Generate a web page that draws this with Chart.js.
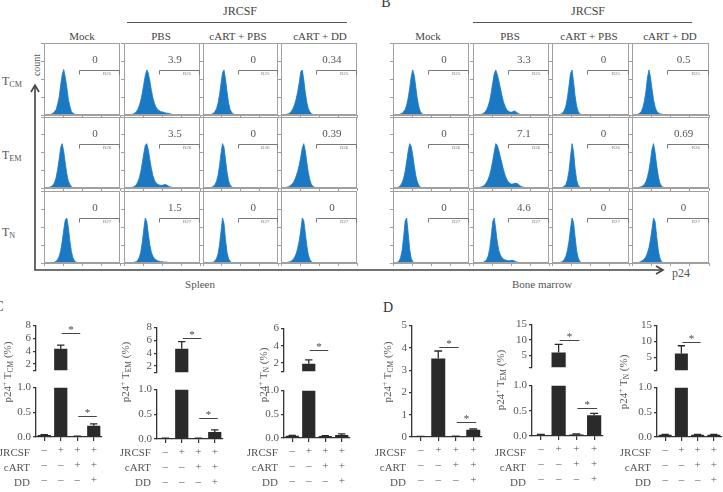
<!DOCTYPE html>
<html><head><meta charset="utf-8">
<script src="https://cdn.jsdelivr.net/npm/chart.js@4.4.1/dist/chart.umd.min.js"></script>
<style>
html,body{margin:0;padding:0;background:#fff;}
#root{position:relative;width:723px;height:492px;overflow:hidden;font-family:"Liberation Serif","DejaVu Serif",serif;color:#555;}
.t{position:absolute;white-space:nowrap;line-height:1;}
canvas{position:absolute;}
sub{font-size:68%;vertical-align:-0.3em;line-height:0;}
sup{font-size:68%;vertical-align:0.5em;line-height:0;}
</style></head><body><div id="root"></div>
<script>
// ================= DATA =================
const columnNames = ['Mock', 'PBS', 'cART + PBS', 'cART + DD'];
const subsetNames = ['CM', 'EM', 'N'];
const gateNames = ['R25', 'R26', 'R27'];
const spleenPercent = [['0', '3.9', '0', '0.34'], ['0', '3.5', '0', '0.39'], ['0', '1.5', '0', '0']];
const marrowPercent = [['0', '3.3', '0', '0.5'], ['0', '7.1', '0', '0.69'], ['0', '4.6', '0', '0']];

// histogram counts (bins of 2 units starting at 4, p24 axis 0-100)
const hSpCM_Mock = [0,0,1,2,4,8,12,25,40,68,90,101,84,62,35,20,8,4,2,1,0];
const hSpCM_PBS  = [0,0,1,1,2,4,7,12,20,32,48,68,88,100,93,76,55,38,26,18,13,10,8,7,6,5,4,4,3,2,1,1,0];
const hSpCM_CP   = [0,0,0,1,2,4,8,14,26,45,70,94,100,80,52,28,13,6,3,1,0];
const hSpCM_CD   = [0,1,2,3,5,9,15,24,36,52,72,96,100,78,50,28,14,7,3,1,0];
const hSpEM_Mock = [0,1,2,4,7,13,24,42,66,92,100,82,56,32,16,8,3,1,0];
const hSpEM_PBS  = [0,0,1,1,2,4,7,13,22,36,55,78,96,100,86,64,44,28,18,12,9,7,6,6,7,8,7,5,3,2,1,0];
const hSpEM_CP   = [0,0,0,1,2,4,8,15,28,50,78,100,92,64,36,17,7,3,1,0];
const hSpEM_CD   = [0,1,2,3,5,8,12,18,27,38,52,70,90,100,84,58,34,18,8,4,2,1,0];
const hSpN_Mock  = [0,0,0,0,1,2,4,8,15,28,48,74,96,100,80,50,26,12,5,2,1,0];
const hSpN_PBS   = [0,0,0,0,1,2,3,6,12,24,45,75,100,92,64,40,24,15,10,7,5,4,3,3,2,2,2,1,1,1,0];
const hSpN_CP    = [0,0,0,0,1,2,5,10,20,40,70,100,88,52,24,10,4,1,0];
const hSpN_CD    = [0,0,1,2,3,5,8,13,21,33,50,72,100,94,66,38,18,8,3,1,0];
const hBmCM_Mock = [0,0,1,2,4,7,12,22,38,60,86,100,88,62,36,18,8,3,1,0];
const hBmCM_PBS  = [0,0,1,1,2,4,7,12,20,32,50,72,92,100,90,76,60,44,30,20,13,9,7,6,7,9,8,5,3,1,0];
const hBmCM_CP   = [0,0,0,1,2,5,10,20,38,64,92,100,74,42,20,8,3,1,0];
const hBmCM_CD   = [0,1,2,4,8,16,30,52,82,100,84,58,34,18,9,5,3,2,1,0];
const hBmEM_Mock = [0,1,3,6,12,22,38,60,84,100,94,74,50,28,14,6,2,1,0];
const hBmEM_PBS  = [0,0,1,2,3,5,8,13,20,30,44,62,82,100,96,84,70,56,42,30,21,15,11,9,9,10,11,10,8,5,3,2,1,0];
const hBmEM_CP   = [0,0,0,0,1,2,4,8,18,38,70,100,82,44,18,6,2,0];
const hBmEM_CD   = [0,0,1,2,3,5,8,14,24,40,62,88,100,80,52,28,12,5,2,1,0];
const hBmN_Mock  = [0,2,5,12,28,58,94,100,66,30,10,3,1,0];
const hBmN_PBS   = [0,0,0,0,1,2,4,8,16,32,60,92,100,74,46,28,18,12,9,7,6,5,5,6,6,5,3,2,1,0];
const hBmN_CP    = [0,0,0,1,2,4,8,15,28,48,76,100,90,58,28,11,4,1,0];
const hBmN_CD    = [0,0,1,2,4,6,9,14,22,34,52,76,100,92,60,30,12,4,1,0];

const spleenHists = [[hSpCM_Mock, hSpCM_PBS, hSpCM_CP, hSpCM_CD], [hSpEM_Mock, hSpEM_PBS, hSpEM_CP, hSpEM_CD], [hSpN_Mock, hSpN_PBS, hSpN_CP, hSpN_CD]];
const marrowHists = [[hBmCM_Mock, hBmCM_PBS, hBmCM_CP, hBmCM_CD], [hBmEM_Mock, hBmEM_PBS, hBmEM_CP, hBmEM_CD], [hBmN_Mock, hBmN_PBS, hBmN_CP, hBmN_CD]];

// bar charts (% p24+)
const jrcsfRow = ['\u2013', '+', '+', '+'];
const cartRow  = ['\u2013', '\u2013', '+', '+'];
const ddRow    = ['\u2013', '\u2013', '\u2013', '+'];
const spleenTCM    = [0.04, 4.4, 0.01, 0.23];
const spleenTCMerr = [0.01, 0.55, 0.005, 0.035];
const spleenTEM    = [0.01, 4.7, 0.01, 0.14];
const spleenTEMerr = [0.005, 1.1, 0.005, 0.045];
const spleenTN     = [0.045, 1.9, 0.04, 0.065];
const spleenTNerr  = [0.01, 0.45, 0.01, 0.02];
const marrowTCM    = [0.02, 3.52, 0.03, 0.32];
const marrowTCMerr = [0.005, 0.34, 0.005, 0.04];
const marrowTEM    = [0.02, 5.9, 0.03, 0.41];
const marrowTEMerr = [0.01, 2.6, 0.01, 0.04];
const marrowTN     = [0.045, 6.3, 0.045, 0.045];
const marrowTNerr  = [0.01, 2.4, 0.01, 0.01];
const lowerTicks = [0, 0.5, 1];
const upperTicksC = [1, 2, 4, 6, 8];
const upperTicksC3 = [1, 2, 4, 6];
const upperTicksD = [1, 5, 10, 15];
const singleTicksD1 = [0, 1, 2, 3, 4, 5];

// ================= RENDER =================
const root = document.getElementById('root');
const FONT = '"Liberation Serif","DejaVu Serif",serif';
const HIST_X0 = 4, HIST_STEP = 2;
const HIST_BLUE = '#1b79c3';
const FRAME = '#a0a0a0';
const GATE_FROM = 46, GATE_TO = 100, GATE_LEVEL = 100;
const BAR_COLOR = '#2a2a2a';
const AXIS_COLOR = '#333';
const LOWER_MAX = 1;

function addText(html, x, y, o = {}) {
  const d = document.createElement('div');
  d.className = 't';
  d.innerHTML = html;
  d.style.fontSize = (o.size || 11) + 'px';
  d.style.color = o.color || '#555';
  d.style.left = x + 'px';
  d.style.top = y + 'px';
  const ax = o.align === 'left' ? '0' : o.align === 'right' ? '-100%' : '-50%';
  d.style.transform = `translate(${ax},-50%)` + (o.rotate ? ` rotate(${o.rotate}deg)` : '');
  root.appendChild(d);
  return d;
}

root.insertAdjacentHTML('beforeend', `
<svg width="723" height="492" style="position:absolute;left:0;top:0">
 <g stroke="#555" stroke-width="1" fill="none">
  <line x1="127" y1="22.5" x2="347" y2="22.5"/>
  <line x1="473" y1="22.5" x2="692" y2="22.5"/>
 </g>
 <g stroke="#444" stroke-width="1.6" fill="none">
  <polyline points="35,85 35,270 663,270"/>
  <polyline points="31,92 35,85 39,92"/>
  <polyline points="656,266 663,270 656,274"/>
 </g>
</svg>`);

addText('A', -5, 4, {size: 14, color: '#333'});
addText('B', 386, 3, {size: 14, color: '#333'});
addText('C', -1, 307, {size: 14, color: '#333'});
addText('D', 388, 308, {size: 14, color: '#333'});

addText('JRCSF', 240, 11, {size: 12, color: '#444'});
addText('JRCSF', 588, 11, {size: 12, color: '#444'});
const headA = [82, 161, 238, 320], headB = [428, 510, 589, 670];
columnNames.forEach((n, i) => { addText(n, headA[i], 36, {size: 11, color: '#444'}); addText(n, headB[i], 36, {size: 11, color: '#444'}); });

addText('count', 37, 65, {size: 10, rotate: -90});
const rowY = [81, 155, 232];
subsetNames.forEach((s, i) => addText('T<sub>' + s + '</sub>', 2, rowY[i], {size: 12, align: 'left'}));
addText('Spleen', 200, 284, {size: 11});
addText('Bone marrow', 542, 284, {size: 11});
addText('p24', 681, 273, {size: 12});

// -------- histograms --------
const histDecor = {
  id: 'histDecor',
  afterDraw(chart) {
    const {ctx, chartArea: a, scales: {x, y}} = chart;
    ctx.save();
    ctx.strokeStyle = FRAME; ctx.lineWidth = 1;
    ctx.strokeRect(Math.round(a.left) + 0.5, Math.round(a.top) + 0.5, Math.round(a.right - a.left) - 1, Math.round(a.bottom - a.top) - 1);
    const gx0 = Math.round(x.getPixelForValue(GATE_FROM)) + 0.5;
    const gx1 = Math.round(x.getPixelForValue(GATE_TO)) - 0.5;
    const gy = Math.round(y.getPixelForValue(GATE_LEVEL)) + 0.5;
    ctx.strokeStyle = '#777';
    ctx.beginPath();
    ctx.moveTo(gx0, gy + 4); ctx.lineTo(gx0, gy); ctx.lineTo(gx1, gy); ctx.lineTo(gx1, gy + 4);
    ctx.stroke();
    ctx.restore();
  }
};

function histChart(px, py, w, h, counts, pct, gate) {
  const cv = document.createElement('canvas');
  const TL = 3;
  cv.width = w + TL + 1; cv.height = h + TL + 1;
  cv.style.left = (px - TL) + 'px'; cv.style.top = (py - 1) + 'px';
  root.appendChild(cv);
  new Chart(cv, {
    type: 'line',
    data: {datasets: [{
      data: counts.map((c, i) => ({x: HIST_X0 + i * HIST_STEP, y: c})),
      fill: 'origin', backgroundColor: HIST_BLUE, borderColor: HIST_BLUE,
      borderWidth: 0.8, pointRadius: 0, tension: 0
    }]},
    options: {
      animation: false, responsive: false, events: [],
      layout: {padding: {top: 1, right: 1, left: 0, bottom: 0}},
      plugins: {legend: {display: false}, tooltip: {enabled: false}},
      scales: {
        x: {type: 'linear', min: 0, max: 100, ticks: {display: false, stepSize: 25},
            grid: {drawOnChartArea: false, tickLength: TL, color: FRAME}, border: {color: FRAME}},
        y: {min: 0, max: 160, ticks: {display: false, stepSize: 40},
            grid: {drawOnChartArea: false, tickLength: TL, color: FRAME}, border: {color: FRAME}}
      }
    },
    plugins: [histDecor]
  });
  addText(pct, px + w * 0.67, py + 16, {size: 11, color: '#555'});
  addText(gate, px + w * 0.83, py + 30, {size: 5, color: '#777'});
}

const colA = [44, 124, 203, 281], colAW = [76, 76, 75, 76];
const colB = [393, 473, 552, 632], colBW = [76, 76, 77, 77];
const rowTop = [43, 117, 191], rowH = [72, 71, 72];
for (let r = 0; r < 3; r++) {
  for (let c = 0; c < 4; c++) {
    histChart(colA[c], rowTop[r], colAW[c], rowH[r], spleenHists[r][c], spleenPercent[r][c], gateNames[r]);
    histChart(colB[c], rowTop[r], colBW[c], rowH[r], marrowHists[r][c], marrowPercent[r][c], gateNames[r]);
  }
}

// -------- bar charts --------
const catLabels = jrcsfRow.map((v, i) => [jrcsfRow[i], cartRow[i], ddRow[i]]);

const barDecor = {
  id: 'barDecor',
  afterDatasetsDraw(chart, args, opts) {
    const {ctx} = chart;
    const ys = chart.scales.y, xs = chart.scales.x;
    const meta = chart.getDatasetMeta(0);
    ctx.save();
    ctx.strokeStyle = BAR_COLOR; ctx.lineWidth = 1.3;
    meta.data.forEach((bar, i) => {
      const v = opts.values[i];
      const inPart = opts.part === 'single' || (opts.part === 'upper' ? v > LOWER_MAX : v <= LOWER_MAX);
      if (!inPart) return;
      const yb = ys.getPixelForValue(v), yt = ys.getPixelForValue(v + opts.err[i]);
      const hw = bar.width * 0.28;
      ctx.beginPath();
      ctx.moveTo(bar.x, yb); ctx.lineTo(bar.x, yt);
      ctx.moveTo(bar.x - hw, yt); ctx.lineTo(bar.x + hw, yt);
      ctx.stroke();
    });
    (opts.sig || []).forEach(s => {
      const x0 = xs.getPixelForValue(s[0]) + 1, x1 = xs.getPixelForValue(s[1]) + 3;
      const y = Math.round(ys.getPixelForValue(s[2])) + 0.5;
      ctx.strokeStyle = '#444'; ctx.lineWidth = 1;
      ctx.beginPath(); ctx.moveTo(x0, y); ctx.lineTo(x1, y); ctx.stroke();
      ctx.fillStyle = '#444'; ctx.font = '11px ' + FONT; ctx.textAlign = 'center'; ctx.textBaseline = 'alphabetic';
      ctx.fillText('*', (x0 + x1) / 2, y - 1);
    });
    ctx.restore();
  }
};

function barChart(cfg, part) {
  const LEFT = 30, RIGHT = 3, TOP = 6, XAXIS = 52, BOT = 2;
  let top, h, yMin, yMax, ticks, fmt, data, showX;
  if (part === 'upper') {
    top = cfg.upper.yTop - TOP; h = cfg.upper.yMin - cfg.upper.yTop + TOP + BOT;
    yMin = LOWER_MAX; yMax = cfg.upper.max; ticks = cfg.upper.ticks;
    data = cfg.values.map(v => v > LOWER_MAX ? [LOWER_MAX, v] : null);
    fmt = v => v === LOWER_MAX ? '' : String(v); showX = false;
  } else if (part === 'lower') {
    top = cfg.lower.y1 - TOP; h = cfg.lower.y0 - cfg.lower.y1 + TOP + XAXIS;
    yMin = 0; yMax = LOWER_MAX; ticks = lowerTicks;
    data = cfg.values.map(v => Math.min(v, LOWER_MAX));
    fmt = v => v.toFixed(1); showX = true;
  } else {
    top = cfg.single.yTop - TOP; h = cfg.single.y0 - cfg.single.yTop + TOP + XAXIS;
    yMin = 0; yMax = cfg.single.max; ticks = cfg.single.ticks;
    data = cfg.values.slice(); fmt = v => String(v); showX = true;
  }
  const w = cfg.xEnd - cfg.axisX + LEFT + RIGHT;
  const cv = document.createElement('canvas');
  cv.width = w; cv.height = h;
  cv.style.left = (cfg.axisX - LEFT) + 'px'; cv.style.top = top + 'px';
  root.appendChild(cv);
  const sig = (cfg.sig || []).filter(s => s[3] === part).map(s => s.slice(0, 3));
  new Chart(cv, {
    type: 'bar',
    data: {labels: catLabels, datasets: [{data, backgroundColor: BAR_COLOR, barPercentage: 0.8, categoryPercentage: 1}]},
    options: {
      animation: false, responsive: false, events: [],
      layout: {padding: {top: TOP, right: RIGHT, left: 0, bottom: showX ? 0 : BOT}},
      plugins: {legend: {display: false}, tooltip: {enabled: false},
        barDecor: {values: cfg.values, err: cfg.err, part, sig}},
      scales: {
        x: showX ? {
          grid: {drawOnChartArea: false, tickLength: 4, color: AXIS_COLOR, offset: false, lineWidth: 1.2},
          border: {color: AXIS_COLOR, width: 1.3},
          ticks: {color: '#555', font: {family: FONT, size: 11, lineHeight: 1.36}, padding: 2, maxRotation: 0, autoSkip: false},
          afterFit: s => { s.height = XAXIS; }
        } : {display: false},
        y: {
          min: yMin, max: yMax,
          afterBuildTicks: s => { s.ticks = ticks.map(v => ({value: v})); },
          ticks: {color: '#555', font: {family: FONT, size: 11}, padding: 2, callback: fmt, autoSkip: false},
          grid: {drawOnChartArea: false, tickLength: 3, color: AXIS_COLOR, lineWidth: 1.2},
          border: {color: AXIS_COLOR, width: 1.3},
          afterFit: s => { s.width = LEFT; }
        }
      }
    },
    plugins: [barDecor]
  });
}

const barPanels = [
  {values: spleenTCM, err: spleenTCMerr, axisX: 36, xEnd: 102,
   lower: {y0: 437, y1: 385}, upper: {yMin: 377, yTop: 323, max: 8, ticks: upperTicksC},
   sig: [[1, 2, 6.8, 'upper'], [2, 3, 0.42, 'lower']], title: 'CM', tx: 7, ty: 372},
  {values: spleenTEM, err: spleenTEMerr, axisX: 157, xEnd: 223,
   lower: {y0: 439, y1: 387}, upper: {yMin: 379, yTop: 325, max: 8, ticks: upperTicksC},
   sig: [[1, 2, 6.3, 'upper'], [2, 3, 0.42, 'lower']], title: 'EM', tx: 125, ty: 372},
  {values: spleenTN, err: spleenTNerr, axisX: 284, xEnd: 350,
   lower: {y0: 438, y1: 388}, upper: {yMin: 378, yTop: 326, max: 6, ticks: upperTicksC3},
   sig: [[1, 2, 3.5, 'upper']], title: 'N', tx: 263, ty: 375},
  {values: marrowTCM, err: marrowTCMerr, axisX: 412, xEnd: 482,
   single: {y0: 437, yTop: 323, max: 5, ticks: singleTicksD1},
   sig: [[1, 2, 4.03, 'single'], [2, 3, 0.66, 'single']], title: 'CM', tx: 387, ty: 372},
  {values: marrowTEM, err: marrowTEMerr, axisX: 532, xEnd: 603,
   lower: {y0: 436, y1: 383}, upper: {yMin: 374, yTop: 322, max: 15, ticks: upperTicksD},
   sig: [[1, 2, 10, 'upper'], [2, 3, 0.55, 'lower']], title: 'EM', tx: 500, ty: 380},
  {values: marrowTN, err: marrowTNerr, axisX: 657, xEnd: 722,
   lower: {y0: 437, y1: 385}, upper: {yMin: 377, yTop: 323, max: 15, ticks: upperTicksD},
   sig: [[1, 2, 10, 'upper']], title: 'N', tx: 623, ty: 382}
];

const rowLabelY = [452, 467, 482];
barPanels.forEach(p => {
  if (p.single) barChart(p, 'single');
  else { barChart(p, 'upper'); barChart(p, 'lower'); }
  addText('p24<sup>+</sup> T<sub>' + p.title + '</sub> (%)', p.tx, p.ty, {size: 11, rotate: -90});
  ['JRCSF', 'cART', 'DD'].forEach((n, i) => addText(n, p.axisX - 6, rowLabelY[i], {size: 11, align: 'right'}));
});
</script></body></html>
